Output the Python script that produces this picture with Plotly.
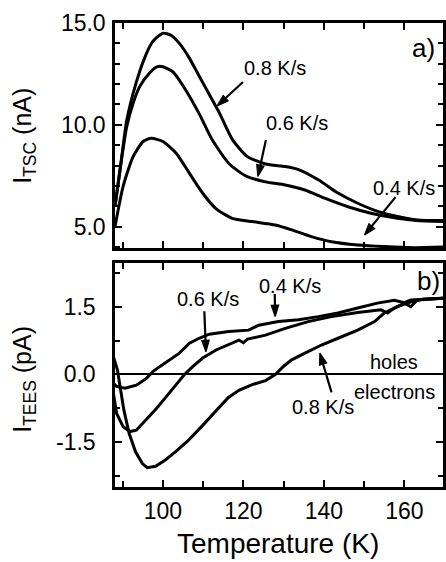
import plotly.graph_objects as go

# ---- Panel a) I_TSC (nA) ----
tsc_08_T = [88.1, 89.5, 91.0, 93.4, 95.9, 97.5, 100.0, 102.0, 104.1, 106.5, 109.0, 111.5, 114.0,
            117.2, 120.9, 125.5, 130.4, 133.7, 138.6, 143.5, 148.4, 153.4, 158.3, 163.2, 169.6]
tsc_08_I = [6.0, 8.0, 10.2, 12.1, 13.5, 14.1, 14.5, 14.4, 14.0, 13.3, 12.4, 11.5, 10.6,
            9.3, 8.45, 8.08, 7.95, 7.8, 7.3, 6.65, 6.15, 5.75, 5.5, 5.33, 5.3]

tsc_06_T = [88.1, 89.5, 91.0, 92.5, 94.3, 96.7, 98.5, 100.0, 102.5, 105.7, 109.0, 112.3, 116.4,
            120.5, 125.5, 130.4, 135.3, 140.2, 146.0, 151.7, 158.3, 163.0, 169.6]
tsc_06_I = [6.0, 8.0, 9.9, 11.0, 11.9, 12.55, 12.85, 12.85, 12.6, 11.7, 10.55, 9.25, 8.1,
            7.5, 7.2, 7.05, 6.8, 6.4, 5.98, 5.66, 5.41, 5.3, 5.25]

tsc_04_T = [88.1, 90.1, 92.6, 95.1, 97.1, 100.0, 103.3, 106.6, 109.9, 113.1, 117.2, 122.2,
            127.9, 132.0, 136.9, 141.9, 148.4, 155.0, 162.4, 169.6]
tsc_04_I = [5.0, 6.97, 8.44, 9.18, 9.34, 9.18, 8.61, 7.62, 6.64, 5.9, 5.41, 5.25,
            5.08, 4.84, 4.51, 4.26, 4.1, 4.02, 3.97, 4.0]

# ---- Panel b) I_TEES (pA) ----
tees_08_T = [87.7, 88.7, 89.5, 90.3, 91.6, 93.2, 94.9, 96.1, 98.2, 100.6, 103.1, 106.4, 109.6,
             112.9, 116.2, 119.0, 122.5, 125.5, 128.0, 130.0, 132.0, 135.3, 139.4, 143.5, 148.4,
             152.6, 155.0, 158.3, 161.6, 164.9, 169.6]
tees_08_I = [0.39, 0.10, -0.35, -0.79, -1.31, -1.72, -1.98, -2.07, -2.04, -1.90, -1.72, -1.46, -1.16,
             -0.85, -0.52, -0.35, -0.22, -0.14, 0.0, 0.18, 0.32, 0.47, 0.65, 0.80, 0.98,
             1.17, 1.36, 1.50, 1.61, 1.67, 1.69]

tees_06_T = [87.7, 88.5, 90.1, 91.8, 93.4, 95.9, 98.4, 100.8, 103.3, 105.3, 107.4, 109.9, 113.2,
             116.4, 118.9, 120.0, 121.0, 125.5, 130.4, 136.1, 141.9, 148.4, 154.2, 155.8, 157.5,
             160.0, 161.6, 163.2, 169.6]
tees_06_I = [-0.42, -0.87, -1.16, -1.27, -1.24, -1.01, -0.76, -0.50, -0.24, -0.01, 0.17, 0.36, 0.54,
             0.66, 0.76, 0.70, 0.78, 0.87, 1.02, 1.17, 1.28, 1.37, 1.43, 1.36, 1.47,
             1.58, 1.50, 1.65, 1.69]

tees_04_T = [87.7, 88.5, 90.6, 93.4, 95.9, 97.5, 99.2, 101.7, 104.1, 106.6, 109.0, 111.5, 116.4,
             121.3, 123.8, 128.7, 133.7, 138.6, 143.5, 148.4, 153.3, 157.5, 160.0, 161.6, 164.9, 169.6]
tees_04_I = [-0.20, -0.27, -0.31, -0.24, -0.09, 0.06, 0.17, 0.32, 0.47, 0.69, 0.80, 0.89, 0.95,
             0.98, 1.09, 1.17, 1.21, 1.28, 1.36, 1.47, 1.58, 1.64, 1.59, 1.65, 1.67, 1.69]

x_tick_vals = [100, 120, 140, 160]
x_tick_text = ["100", "120", "140", "160"]
tsc_tick_vals = [5, 10, 15]
tsc_tick_text = ["5.0", "10.0", "15.0"]
tees_tick_vals = [-1.5, 0, 1.5]
tees_tick_text = ["-1.5", "0.0", "1.5"]

# rate labels: (text, x, y, panel)
labels = [
    ("0.8 K/s", 127.8, 12.79, 1), ("0.6 K/s", 133.3, 10.08, 1), ("0.4 K/s", 159.8, 6.89, 1),
    ("0.6 K/s", 111.1, 1.67, 2), ("0.4 K/s", 131.6, 1.97, 2), ("0.8 K/s", 139.8, -0.72, 2),
    ("holes", 157.5, 0.28, 2), ("electrons", 157.5, -0.39, 2),
]
# pointer arrows: (tail x, tail y, tip x, tip y, panel)
arrows = [
    (119.9, 12.10, 113.5, 10.93, 1),
    (125.6, 9.25, 123.6, 7.46, 1),
    (157.8, 6.45, 150.1, 4.59, 1),
    (110.3, 1.40, 110.7, 0.50, 2),
    (127.8, 1.78, 127.9, 1.28, 2),
    (141.9, -0.40, 139.0, 0.47, 2),
]

FONT = "Liberation Sans, Arial, sans-serif"
LINE = dict(color="black", width=3)

fig = go.Figure()
for T, I in [(tsc_08_T, tsc_08_I), (tsc_06_T, tsc_06_I), (tsc_04_T, tsc_04_I)]:
    fig.add_trace(go.Scatter(x=T, y=I, mode="lines", line=dict(LINE, shape="spline", smoothing=0.6),
                             xaxis="x", yaxis="y", showlegend=False, hoverinfo="skip"))
for T, I in [(tees_08_T, tees_08_I), (tees_06_T, tees_06_I), (tees_04_T, tees_04_I)]:
    fig.add_trace(go.Scatter(x=T, y=I, mode="lines", line=LINE,
                             xaxis="x2", yaxis="y2", showlegend=False, hoverinfo="skip"))
for x0, y0, x1, y1, p in arrows:
    fig.add_trace(go.Scatter(
        x=[x0, x1], y=[y0, y1], mode="lines+markers",
        line=dict(color="black", width=2.2),
        marker=dict(symbol="arrow", size=[0, 12], angleref="previous", color="black",
                    opacity=1, line=dict(width=1.2, color="black")),
        xaxis="x" if p == 1 else "x2", yaxis="y" if p == 1 else "y2",
        showlegend=False, hoverinfo="skip"))

xcommon = dict(range=[88.1, 169.6], showline=True, linecolor="black", linewidth=2.5, mirror="ticks",
               ticks="inside", ticklen=7, tickwidth=2, tickcolor="black",
               tickvals=x_tick_vals, ticktext=x_tick_text,
               minor=dict(dtick=10, tick0=0, ticks="inside", ticklen=6, tickwidth=2, tickcolor="black"),
               showgrid=False, zeroline=False,
               tickfont=dict(family=FONT, size=23, color="black"))

fig.update_layout(
    width=446, height=562,
    margin=dict(l=115, r=0, t=23, b=75),
    paper_bgcolor="white", plot_bgcolor="white",
    font=dict(family=FONT, color="black"),
    xaxis=dict(xcommon, anchor="y", domain=[0, 1], showticklabels=False),
    yaxis=dict(domain=[0.515, 1], anchor="x", range=[3.95, 15.0],
               showline=True, linecolor="black", linewidth=2.5, mirror="ticks",
               ticks="inside", ticklen=7, tickwidth=2, tickcolor="black",
               tickvals=tsc_tick_vals, ticktext=tsc_tick_text,
               minor=dict(dtick=1, tick0=0, ticks="inside", ticklen=5, tickwidth=2, tickcolor="black"),
               showgrid=False, zeroline=False, ticklabelstandoff=2,
               tickfont=dict(family=FONT, size=23, color="black")),
    xaxis2=dict(xcommon, anchor="y2", domain=[0, 1], ticklabelstandoff=2),
    yaxis2=dict(domain=[0, 0.4828], anchor="x2", range=[-2.5, 2.47],
                showline=True, linecolor="black", linewidth=2.5, mirror="ticks",
                ticks="inside", ticklen=7, tickwidth=2, tickcolor="black",
                tickvals=tees_tick_vals, ticktext=tees_tick_text,
                minor=dict(dtick=0.75, tick0=0, ticks="inside", ticklen=5, tickwidth=2, tickcolor="black"),
                showgrid=False, zeroline=True, zerolinecolor="black", zerolinewidth=1.5,
                ticklabelstandoff=12,
                tickfont=dict(family=FONT, size=23, color="black")),
)

ann_font = dict(family=FONT, size=20, color="black")


def px_to_paper(px, py):
    return (px - 115) / (446 - 115), 1 - (py - 23) / (562 - 23 - 75)


annotations = []
for txt, (px, py), size, angle in [
    ("I<sub>TSC</sub> (nA)", (23, 136), 25, -90),
    ("I<sub>TEES</sub> (pA)", (23, 379), 25, -90),
    ("Temperature (K)", (279, 543), 28, 0),
]:
    x, y = px_to_paper(px, py)
    annotations.append(dict(text=txt, x=x, y=y, xref="paper", yref="paper", showarrow=False,
                            textangle=angle, xanchor="center", yanchor="middle",
                            font=dict(family=FONT, size=size, color="black")))
annotations.append(dict(text="a)", x=164.7, y=13.79, xref="x", yref="y", showarrow=False,
                        font=dict(family=FONT, size=26, color="black")))
annotations.append(dict(text="b)", x=166.1, y=2.06, xref="x2", yref="y2", showarrow=False,
                        font=dict(family=FONT, size=26, color="black")))
for txt, x, y, p in labels:
    annotations.append(dict(text=txt, x=x, y=y, xref="x" if p == 1 else "x2",
                            yref="y" if p == 1 else "y2", showarrow=False, font=ann_font))
fig.update_layout(annotations=annotations)

fig.write_html("out.html")
